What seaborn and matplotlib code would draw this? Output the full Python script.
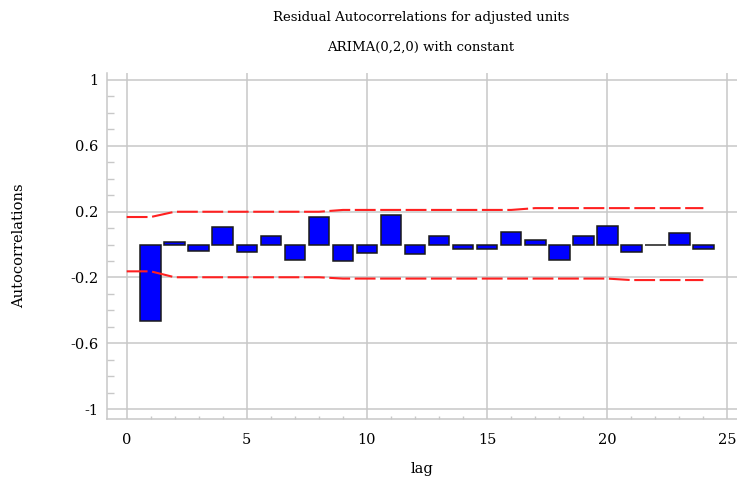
import numpy as np
import pandas as pd
import matplotlib
matplotlib.use("Agg")
import matplotlib.pyplot as plt
from matplotlib.ticker import MultipleLocator, FixedLocator
import seaborn as sns

# ---- data ----
lags = list(range(1, 25))
acf = [-0.467, 0.015, -0.04, 0.104, -0.048, 0.052, -0.092, 0.169, -0.102, -0.05,
       0.179, -0.06, 0.052, -0.027, -0.027, 0.074, 0.03, -0.092, 0.052, 0.114,
       -0.048, -0.006, 0.072, -0.03]
band_lags = list(range(0, 25))
upper = [0.167, 0.167, 0.199, 0.199, 0.199, 0.199, 0.199, 0.199, 0.199, 0.21,
         0.21, 0.21, 0.21, 0.21, 0.21, 0.21, 0.21, 0.221, 0.221, 0.221,
         0.221, 0.221, 0.221, 0.221, 0.221]
lower = [-0.163, -0.163, -0.199, -0.199, -0.199, -0.199, -0.199, -0.199, -0.199, -0.207,
         -0.207, -0.207, -0.207, -0.207, -0.207, -0.207, -0.207, -0.207, -0.207, -0.207,
         -0.207, -0.216, -0.216, -0.216, -0.216]
yticks = [1, 0.6, 0.2, -0.2, -0.6, -1]
ytick_labels = ["1", "0.6", "0.2", "-0.2", "-0.6", "-1"]
xticks = [0, 5, 10, 15, 20, 25]

title1 = "Residual Autocorrelations for adjusted units"
title2 = "ARIMA(0,2,0) with constant"

sns.set_theme(style="white")
plt.rcParams['font.family'] = ['DejaVu Serif']

df = pd.DataFrame({"lag": lags, "acf": acf})
bands = pd.DataFrame({"lag": band_lags, "upper": upper, "lower": lower})

fig = plt.figure(figsize=(7.37, 4.84), dpi=100)
ax = fig.add_axes([107 / 737, (484 - 419) / 484, (737 - 107) / 737, (419 - 73.3) / 484])

grid_c = "#c8c8c8"
ax.set_axisbelow(True)
ax.grid(True, which="major", color=grid_c, linewidth=1.1)

sns.barplot(data=df, x="lag", y="acf", native_scale=True, width=0.86,
            color="#0000ff", saturation=1, edgecolor="#1a1a1a", linewidth=1.1, ax=ax)
sns.lineplot(data=bands, x="lag", y="upper", color="#ff2020", linewidth=1.5, ax=ax)
sns.lineplot(data=bands, x="lag", y="lower", color="#ff2020", linewidth=1.5, ax=ax)
for ln in ax.lines:
    ln.set_dashes((10, 2.2))

ax.set_xlim(-0.82, 25.4)
ax.set_ylim(-1.06, 1.04)
ax.yaxis.set_major_locator(FixedLocator(yticks))
ax.set_yticklabels(ytick_labels)
ax.yaxis.set_minor_locator(MultipleLocator(0.1))
ax.xaxis.set_major_locator(FixedLocator(xticks))
ax.xaxis.set_minor_locator(MultipleLocator(1))

for s in ["top", "right"]:
    ax.spines[s].set_visible(False)
for s in ["left", "bottom"]:
    ax.spines[s].set_color(grid_c)
    ax.spines[s].set_linewidth(1.1)

ax.tick_params(axis="both", which="major", length=0, labelsize=10.5, colors="black")
ax.tick_params(axis="y", which="major", pad=6)
ax.tick_params(axis="x", which="major", pad=10)
ax.tick_params(axis="y", which="minor", left=True, direction="in", length=5, width=1, color=grid_c)
ax.tick_params(axis="x", which="minor", bottom=True, direction="in", length=2, width=1, color=grid_c)

ax.set_xlabel("lag", fontsize=10.5, labelpad=11, color="black")
ax.set_ylabel("Autocorrelations", fontsize=10.5, labelpad=32, color="black")

fig.text(421 / 737, 1 - 17 / 484, title1, ha="center", va="center", fontsize=9.5, color="black")
fig.text(421 / 737, 1 - 47 / 484, title2, ha="center", va="center", fontsize=9.5, color="black")

fig.savefig("out.png", dpi=100)
